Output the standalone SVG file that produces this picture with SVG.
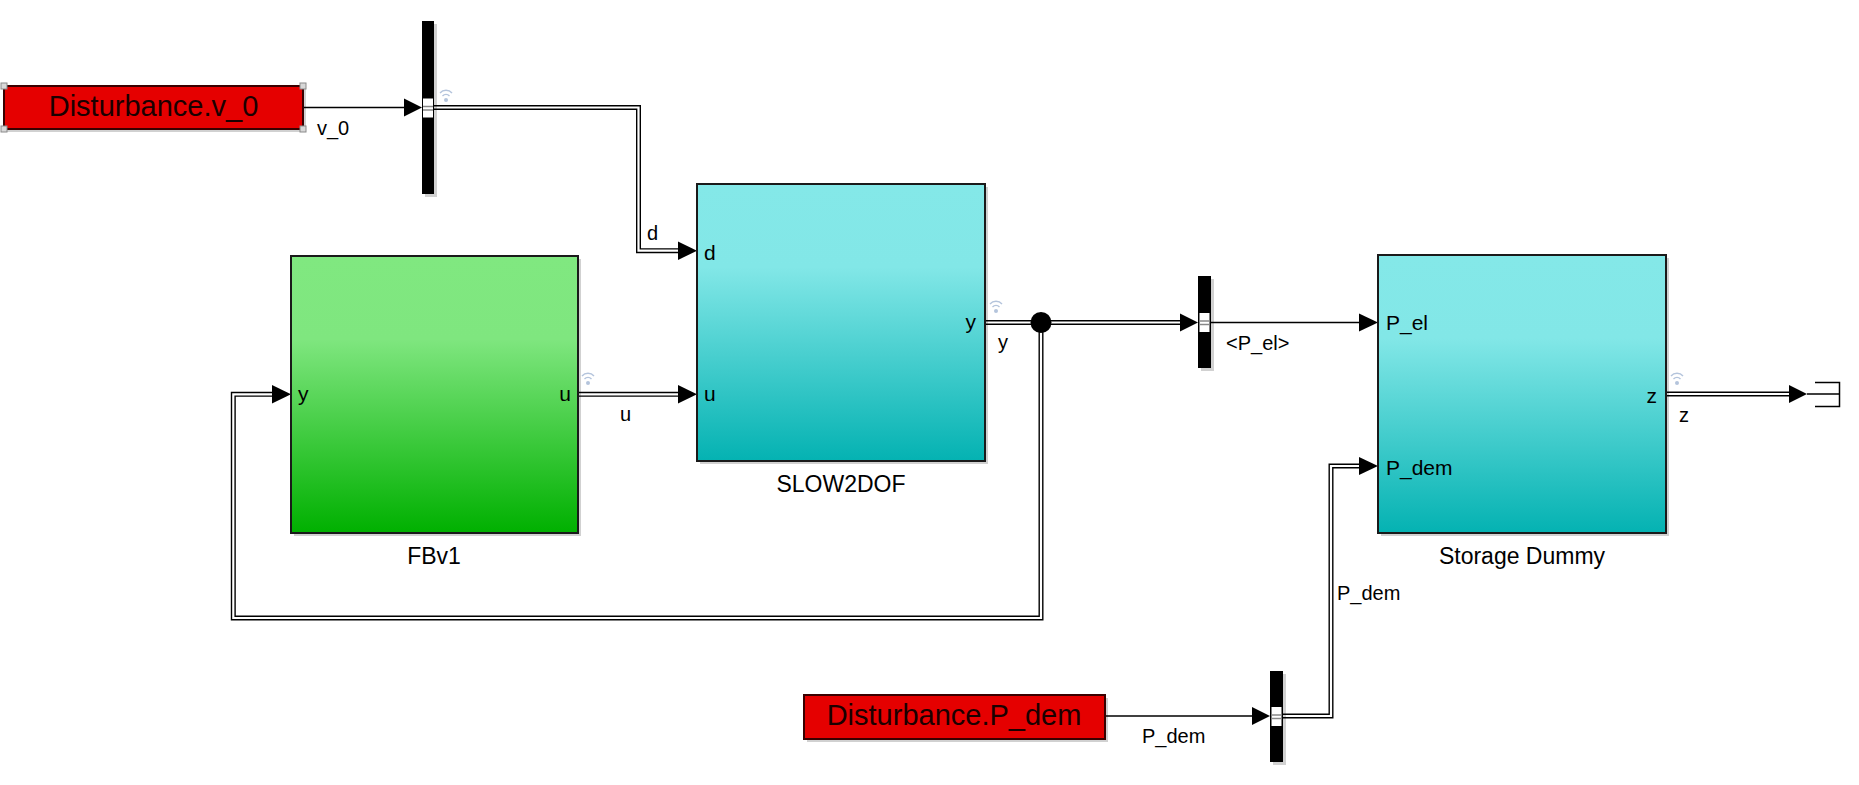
<svg xmlns="http://www.w3.org/2000/svg" width="1859" height="785" viewBox="0 0 1859 785">
<style>
.lbl{font-family:"Liberation Sans",Arial,sans-serif;font-size:20px;fill:#000}
.port{font-family:"Liberation Sans",Arial,sans-serif;font-size:21px;fill:#000}
.name{font-family:"Liberation Sans",Arial,sans-serif;font-size:23px;fill:#000;text-anchor:middle}
.big{font-family:"Liberation Sans",Arial,sans-serif;font-size:29px;fill:#1a0000;text-anchor:middle}
.blk{stroke:#1a1a1a;stroke-width:2}
.shadow{fill:#000;opacity:0.18}
.thin{fill:none;stroke:#000;stroke-width:1.3}
.busO{fill:none;stroke:#000;stroke-width:5}
.busI{fill:none;stroke:#fff;stroke-width:2.2}
.arr{fill:#000}
.mux{fill:#000}
.wl{fill:none;stroke:#b4c4dc;stroke-width:1.4}
</style>
<defs>
<linearGradient id="gGreen" x1="0" y1="0" x2="0" y2="1">
<stop offset="0" stop-color="#80e880"/>
<stop offset="0.3" stop-color="#7fe67f"/>
<stop offset="1" stop-color="#00b000"/>
</linearGradient>
<linearGradient id="gCyan" x1="0" y1="0" x2="0" y2="1">
<stop offset="0" stop-color="#84e8e8"/>
<stop offset="0.3" stop-color="#82e7e7"/>
<stop offset="1" stop-color="#04b2b2"/>
</linearGradient>
<g id="wifi">
<path class="wl" d="M-6,-3 A8,8 0 0 1 6,-3"/>
<path class="wl" d="M-3.5,0 A5,5 0 0 1 3.5,0"/>
<circle cx="0" cy="4" r="2" fill="#b4c4dc"/>
</g>
<g id="muxport">
<rect x="0" y="0" width="10" height="19" fill="#fff"/>
<line x1="0" y1="8" x2="10" y2="8" stroke="#888" stroke-width="1.5"/>
<line x1="0" y1="11.5" x2="10" y2="11.5" stroke="#888" stroke-width="1.5"/>
</g>
</defs>

<!-- connectors -->
<g id="connectors">
<path class="thin" d="M303,107.5 H405"/>
<polygon class="arr" points="404,98.5 422,107.5 404,116.5"/>

<path class="busO" d="M434,107.5 H638.5 V250.7 H679"/>
<path class="busI" d="M434,107.5 H638.5 V250.7 H679"/>
<polygon class="arr" points="678,241.5 697,250.7 678,260"/>

<path class="busO" d="M578,394.3 H679"/>
<path class="busI" d="M578,394.3 H679"/>
<polygon class="arr" points="678,385 697,394.3 678,403.5"/>

<path class="busO" d="M985,322.5 H1181"/>
<path class="busI" d="M985,322.5 H1181"/>
<polygon class="arr" points="1180,313.5 1198,322.5 1180,331.5"/>

<path class="busO" d="M1041,322.5 V618 H233.3 V394.3 H273"/>
<path class="busI" d="M1041,322.5 V618 H233.3 V394.3 H273"/>
<polygon class="arr" points="272,385 291,394.3 272,403.5"/>
<circle cx="1041" cy="322.5" r="10.5" fill="#000"/>

<path class="thin" d="M1211,322.5 H1360"/>
<polygon class="arr" points="1359,313.5 1378,322.5 1359,331.5"/>

<path class="thin" d="M1105,716 H1253"/>
<polygon class="arr" points="1252,707 1270,716 1252,725"/>

<path class="busO" d="M1283,716 H1331 V466 H1360"/>
<path class="busI" d="M1283,716 H1331 V466 H1360"/>
<polygon class="arr" points="1359,457 1378,466 1359,475"/>

<path class="busO" d="M1666,394 H1790"/>
<path class="busI" d="M1666,394 H1790"/>
<polygon class="arr" points="1789,385 1807,394 1789,403"/>
</g>

<!-- nodes -->
<g id="dist_v0">
<rect class="shadow" x="7" y="89" width="299" height="43"/>
<rect x="4" y="86" width="299" height="43" fill="#e50000" stroke="#3a0000" stroke-width="2"/>
<text class="big" x="153.5" y="115.5">Disturbance.v_0</text>
<g fill="#d8d8d8" stroke="#8a8a8a" stroke-width="1">
<rect x="1" y="83" width="6" height="6"/>
<rect x="300" y="83" width="6" height="6"/>
<rect x="1" y="126" width="6" height="6"/>
<rect x="300" y="126" width="6" height="6"/>
</g>
</g>

<g id="mux1">
<rect class="shadow" x="425" y="24" width="12" height="173"/>
<rect class="mux" x="422" y="21" width="12" height="173"/>
<use href="#muxport" x="423" y="98.5"/>
<use href="#wifi" x="446" y="96"/>
</g>

<g id="FBv1">
<rect class="shadow" x="294" y="259" width="287" height="277"/>
<rect class="blk" x="291" y="256" width="287" height="277" fill="url(#gGreen)"/>
<text class="port" x="298" y="401">y</text>
<text class="port" x="571" y="401" text-anchor="end">u</text>
<text class="name" x="434" y="564">FBv1</text>
<use href="#wifi" x="588" y="379"/>
</g>

<g id="SLOW2DOF">
<rect class="shadow" x="700" y="187" width="288" height="277"/>
<rect class="blk" x="697" y="184" width="288" height="277" fill="url(#gCyan)"/>
<text class="port" x="704" y="260">d</text>
<text class="port" x="704" y="401">u</text>
<text class="port" x="976" y="329" text-anchor="end">y</text>
<text class="name" x="841" y="492">SLOW2DOF</text>
<use href="#wifi" x="996" y="307"/>
</g>

<g id="mux2">
<rect class="shadow" x="1201" y="279" width="13" height="92"/>
<rect class="mux" x="1198" y="276" width="13" height="92"/>
<use href="#muxport" x="1199.5" y="313"/>
</g>

<g id="storage">
<rect class="shadow" x="1381" y="258" width="288" height="278"/>
<rect class="blk" x="1378" y="255" width="288" height="278" fill="url(#gCyan)"/>
<text class="port" x="1386" y="330">P_el</text>
<text class="port" x="1386" y="475">P_dem</text>
<text class="port" x="1657" y="403" text-anchor="end">z</text>
<text class="name" x="1522" y="564">Storage Dummy</text>
<use href="#wifi" x="1677" y="379"/>
</g>

<g id="dist_pdem">
<rect class="shadow" x="807" y="698" width="301" height="44"/>
<rect x="804" y="695" width="301" height="44" fill="#e50000" stroke="#3a0000" stroke-width="2"/>
<text class="big" x="954" y="725">Disturbance.P_dem</text>
</g>

<g id="mux3">
<rect class="shadow" x="1273" y="674" width="13" height="91"/>
<rect class="mux" x="1270" y="671" width="13" height="91"/>
<use href="#muxport" x="1271.5" y="707"/>
</g>

<g id="out_z">
<path d="M1815,382.5 H1839.5 V406.5 H1815 M1807,394 H1839.5" fill="none" stroke="#000" stroke-width="1.5"/>
</g>

<!-- signal labels -->
<g id="labels">
<text class="lbl" x="317" y="135">v_0</text>
<text class="lbl" x="647" y="240">d</text>
<text class="lbl" x="620" y="421">u</text>
<text class="lbl" x="998" y="349">y</text>
<text class="lbl" x="1226" y="350">&lt;P_el&gt;</text>
<text class="lbl" x="1679" y="422">z</text>
<text class="lbl" x="1337" y="600">P_dem</text>
<text class="lbl" x="1142" y="743">P_dem</text>
</g>
</svg>
